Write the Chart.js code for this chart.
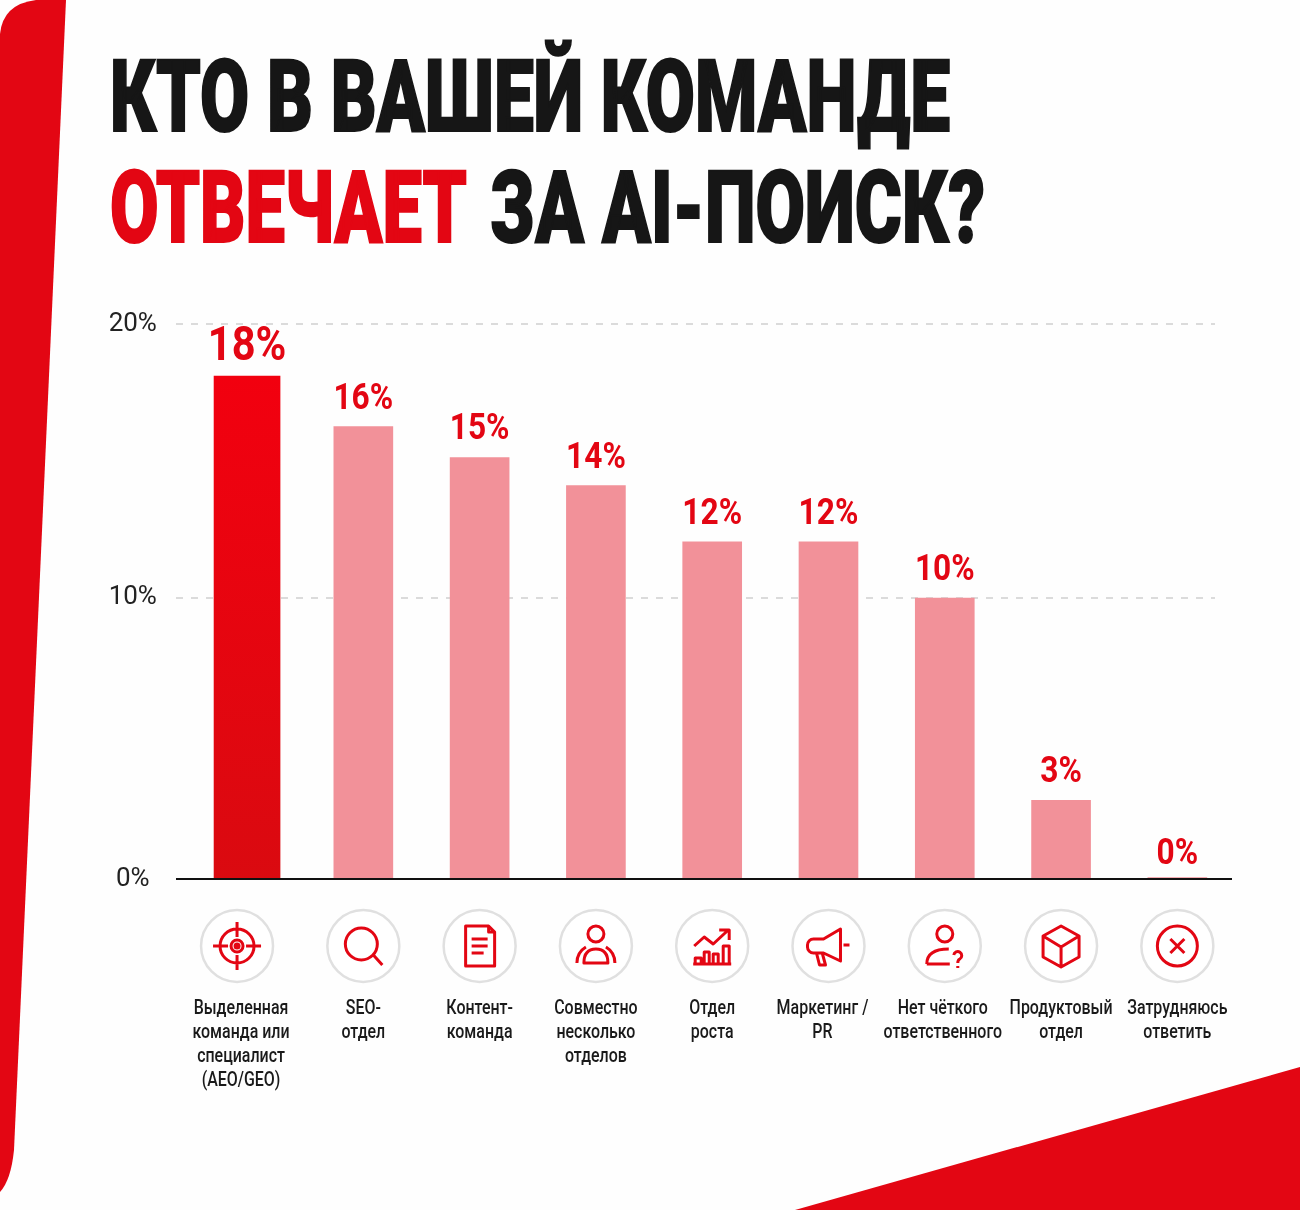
<!DOCTYPE html>
<html lang="ru">
<head>
<meta charset="utf-8">
<title>Кто в вашей команде отвечает за AI-поиск?</title>
<script src="https://cdn.jsdelivr.net/npm/chart.js@4"></script>
<style>
  html, body { margin: 0; padding: 0; background: #fefefe; }
  #page { position: relative; width: 1300px; height: 1210px; overflow: hidden; }
  #bg { position: absolute; left: 0; top: 0; }
  #chart { position: absolute; left: 0; top: 0; }
  .title-line {
    position: absolute; white-space: nowrap; transform-origin: 0 0;
    font: 900 100px/100px Roboto, sans-serif;
    color: #161616; -webkit-text-stroke: 2px currentColor;
  }
  .title-line.hl { color: #e30613; }
</style>
</head>
<body>
<div id="page">
  <svg id="bg" width="1300" height="1210">
    <path d="M66 0 L14 1150 Q11 1180 0 1192 L0 34 Q3 4 36 0 Z" fill="#e30613"/>
    <path d="M795 1210 L1300 1067 L1300 1210 Z" fill="#e30613"/>
  </svg>
  <canvas id="chart" width="1300" height="1210"></canvas>
  <div class="title-line" data-w="840" style="left:110px;top:47px">КТО В ВАШЕЙ КОМАНДЕ</div>
  <div class="title-line hl" data-w="357" style="left:110px;top:158px">ОТВЕЧАЕТ</div>
  <div class="title-line" data-w="495" style="left:490px;top:158px">ЗА AI-ПОИСК?</div>
</div>
<script>
const CATEGORIES = [
  ["Выделенная", "команда или", "специалист", "(AEO/GEO)"],
  ["SEO-", "отдел"],
  ["Контент-", "команда"],
  ["Совместно", "несколько", "отделов"],
  ["Отдел", "роста"],
  ["Маркетинг /", "PR"],
  ["Нет чёткого", "ответственного"],
  ["Продуктовый", "отдел"],
  ["Затрудняюсь", "ответить"],
];
// высоты столбиков
const VALUES = [17.9, 16.1, 15, 14, 12, 12, 10, 2.8, 0.05];
const VALUE_LABELS = ["18%", "16%", "15%", "14%", "12%", "12%", "10%", "3%", "0%"];
const TICK_VALUES = [0, 10, 19.75];
const TICK_LABELS = ["0%", "10%", "20%"];

const RED = "#e30613";

// Иконки: контуры относительно центра кружка
const ICONS = [
  "M-24 0H-9M9 0H24M0-24V-9M0 9V24M17 0A17 17 0 1 1-17 0A17 17 0 1 1 17 0M6 0A6 6 0 1 1-6 0A6 6 0 1 1 6 0",
  "M14-2A16 16 0 1 1-18-2A16 16 0 1 1 14-2M10 9L19 19",
  "M-14-20H9L15-14V20H-14ZM9-20V-14H15M-8-7H8M-8 0H8M-8 7H4",
  "M8-12A8 8 0 1 1-8-12A8 8 0 1 1 8-12M-12 17C-12 6-6 3 0 3C6 3 12 6 12 17ZM-19 17C-19 8-15 4-10 1M19 17C19 8 15 4 10 1",
  "M-18 0L-8-9L1-2L15-15M7-16H17V-6M-17 18V12H-11V18ZM-8 18V6H-3V18ZM1 18V8H6V18ZM11 18V0H17V18ZM-19 18H19",
  "M12-17L-5-7H-15A6 6 0 0 0-21-1V1A6 6 0 0 0-15 7H-5L12 15ZM-12 7L-9 19H-3L-6 8M15-1H21",
  "M8-12A8 8 0 1 1-8-12A8 8 0 1 1 8-12M-18 18C-18 7-10 3 4 3M-18 18H5M9 9A4 4 0 1 1 15 13C13 14 13 15 13 17M13 20V22",
  "M0-20L18-10V11L0 21L-18 11V-10ZM-18-10L0 1L18-10M0 1V21",
  "M20 0A20 20 0 1 1-20 0A20 20 0 1 1 20 0M-7-7L7 7M7-7L-7 7",
];

// Узкий текст: таких шрифтов нет, поэтому сжимаем Roboto по горизонтали
function narrowText(ctx, text, x, y, sx) {
  ctx.save();
  ctx.translate(x, y);
  ctx.scale(sx, 1);
  ctx.fillText(text, 0, 0);
  ctx.restore();
}

const backdrop = {
  id: "backdrop",
  beforeDatasetsDraw(chart) {
    const { ctx, scales: { y } } = chart;
    ctx.save();
    ctx.strokeStyle = "#cfcfcf";
    ctx.lineWidth = 1.6;
    ctx.setLineDash([7, 8]);
    TICK_VALUES.filter((v) => v > 0).forEach((v) => {
      const py = y.getPixelForValue(v);
      ctx.beginPath();
      ctx.moveTo(176, py);
      ctx.lineTo(1215, py);
      ctx.stroke();
    });
    ctx.restore();
  },
  afterDatasetsDraw(chart) {
    const { ctx, scales: { x, y } } = chart;
    ctx.save();
    // нулевая линия
    ctx.strokeStyle = "#111";
    ctx.lineWidth = 2.2;
    ctx.beginPath();
    ctx.moveTo(176, y.getPixelForValue(0));
    ctx.lineTo(1232, y.getPixelForValue(0));
    ctx.stroke();

    // подписи значений
    ctx.textAlign = "center";
    ctx.textBaseline = "alphabetic";
    ctx.fillStyle = RED;
    VALUES.forEach((v, i) => {
      const big = i === 0;
      const gap = big ? 16 : i === 8 ? 14 : 18;
      ctx.font = `700 ${big ? 49 : 36}px Roboto`;
      narrowText(ctx, VALUE_LABELS[i], x.getPixelForValue(i), y.getPixelForValue(v) - gap, big ? 0.85 : 0.88);
    });

    // подписи категорий
    const shift = [-6, 0, 0, 0, 0, -6, -2, 0, 0];
    ctx.fillStyle = "#1a1a1a";
    ctx.font = "500 21px Roboto";
    CATEGORIES.forEach((lines, i) => {
      const cx = x.getPixelForValue(i) + shift[i];
      lines.forEach((t, k) => narrowText(ctx, t, cx, 1014 + k * 24, 0.76));
    });

    // иконки в кружках
    ICONS.forEach((d, i) => {
      const cx = x.getPixelForValue(i) - (i === 0 ? 10 : 0);
      const cy = 946;
      ctx.save();
      ctx.translate(cx, cy);
      ctx.beginPath();
      ctx.arc(0, 0, 36, 0, Math.PI * 2);
      ctx.fillStyle = "#fff";
      ctx.fill();
      ctx.strokeStyle = "#e0e0e0";
      ctx.lineWidth = 2.5;
      ctx.stroke();
      ctx.strokeStyle = RED;
      ctx.lineWidth = 3;
      ctx.lineJoin = "round";
      ctx.stroke(new Path2D(d));
      if (i === 0) {
        ctx.fillStyle = RED;
        ctx.beginPath();
        ctx.arc(0, 0, 3.5, 0, Math.PI * 2);
        ctx.fill();
      }
      ctx.restore();
    });
    ctx.restore();
  },
};

new Chart(document.getElementById("chart"), {
  type: "bar",
  plugins: [backdrop],
  data: {
    labels: CATEGORIES,
    datasets: [
      {
        data: VALUES.map((v, i) => (i === 0 ? v : null)),
        barThickness: 66,
        grouped: false,
        backgroundColor: (c) => {
          const { ctx, chartArea } = c.chart;
          if (!chartArea) return "#ee0010";
          const g = ctx.createLinearGradient(0, 376, 0, 879);
          g.addColorStop(0, "#f2000f");
          g.addColorStop(1, "#da0a10");
          return g;
        },
      },
      {
        data: VALUES.map((v, i) => (i === 0 ? null : v)),
        barThickness: 59,
        grouped: false,
        backgroundColor: "#f29199",
      },
    ],
  },
  options: {
    responsive: false,
    animation: false,
    layout: { padding: { top: 324, right: 64.5, left: 101.5, bottom: 0 } },
    plugins: { legend: { display: false }, tooltip: { enabled: false } },
    scales: {
      x: {
        grid: { display: false },
        border: { display: false },
        afterFit: (s) => { s.height = 1210 - 879; },
        ticks: { display: false },
      },
      y: {
        min: 0,
        max: 19.75,
        grid: { display: false },
        border: { display: false },
        afterFit: (s) => { s.width = 87.4; },
        afterBuildTicks: (s) => { s.ticks = TICK_VALUES.map((value) => ({ value })); },
        ticks: {
          crossAlign: "center",
          padding: 24,
          color: "#222",
          font: { family: "Roboto", size: 26 },
          callback: (v) => TICK_LABELS[TICK_VALUES.indexOf(v)],
        },
      },
    },
  },
});

// Заголовок: подгоняем ширину строк
document.querySelectorAll(".title-line").forEach((el) => {
  el.style.transform = `scaleX(${el.dataset.w / el.getBoundingClientRect().width})`;
});
</script>
</body>
</html>
